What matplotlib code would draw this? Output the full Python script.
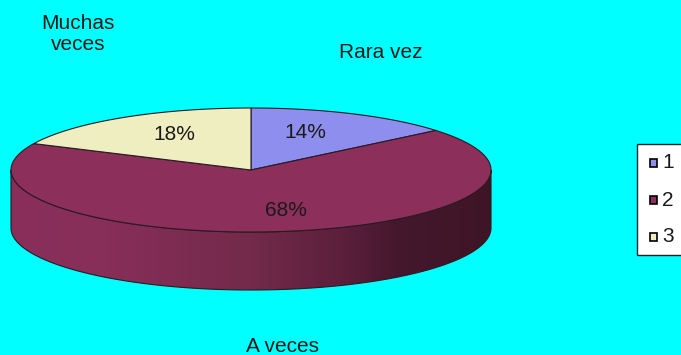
import numpy as np
import matplotlib
matplotlib.use("Agg")
import matplotlib.pyplot as plt
from matplotlib.patches import Polygon, Rectangle
from matplotlib.colors import LinearSegmentedColormap

# Survey answers
categories = ["Rara vez", "A veces", "Muchas veces"]
legend_labels = ["1", "2", "3"]
values = [14, 68, 18]
colors = ["#8E8EEE", "#8C2F5A", "#EEEEC0"]

plt.rcParams["font.family"] = ["Liberation Sans", "DejaVu Sans"]

W, H = 681, 355
fig = plt.figure(figsize=(W / 100, H / 100), dpi=100)
fig.patch.set_facecolor("#00FFFF")
ax = fig.add_axes([0, 0, 1, 1])
ax.set_xlim(0, W)
ax.set_ylim(H, 0)
ax.axis("off")
ax.set_facecolor("#00FFFF")

# pie geometry (pixel space)
cx, cy, a, b, depth = 251, 170, 240, 62, 58
edge = "#2a1a22"


def ell(t, dy=0.0):
    t = np.radians(t)
    return np.column_stack([cx + a * np.cos(t), cy - b * np.sin(t) + dy])


# side wall (front half), filled with a horizontal shading gradient
t_front = np.linspace(180, 360, 200)
side_pts = np.vstack([ell(t_front), ell(t_front[::-1], depth)])
side = Polygon(side_pts, closed=True, facecolor="none", edgecolor=edge, lw=0.8, zorder=3)
ax.add_patch(side)
cmap = LinearSegmentedColormap.from_list(
    "side", [(0.0, "#8A2F5B"), (0.2, "#872E59"), (0.5, "#732A4B"),
             (0.7, "#5A1F3C"), (0.8, "#45182D"), (1.0, "#3E1526")])
grad = np.linspace(0, 1, 256).reshape(1, -1)
im = ax.imshow(grad, cmap=cmap, aspect="auto",
               extent=(cx - a, cx + a, cy + b + depth + 2, cy - 2), zorder=2)
im.set_clip_path(side)
ax.set_xlim(0, W)
ax.set_ylim(H, 0)

# top face wedges, starting at 12 o'clock going clockwise
start = 90.0
for v, c in zip(values, colors):
    sweep = 360.0 * v / sum(values)
    t = np.linspace(start, start - sweep, 200)
    pts = np.vstack([[cx, cy], ell(t)])
    ax.add_patch(Polygon(pts, closed=True, facecolor=c, edgecolor=edge, lw=0.8, zorder=4))
    start -= sweep

# percentage labels on the slices
pct_pos = [(305, 132), (286, 211), (174, 134)]
for v, (x, y) in zip(values, pct_pos):
    ax.text(x, y, f"{v}%", ha="center", va="center", fontsize=15, color="#1a1a1a", zorder=5)

# category labels around the pie
cat_pos = [(381, 52), (283, 346), (78, 34)]
cat_text = ["Rara vez", "A veces", "Muchas\nveces"]
for s, (x, y) in zip(cat_text, cat_pos):
    ax.text(x, y, s, ha="center", va="center", fontsize=15, color="#1a1a1a",
            linespacing=1.15, zorder=5)

# legend
ax.add_patch(Rectangle((637, 144), 60, 111, facecolor="white", edgecolor="#222222",
                       lw=1.0, zorder=5, clip_on=False))
rows = [163, 200, 237]
for lab, c, y in zip(legend_labels, colors, rows):
    ax.add_patch(Rectangle((650, y - 4), 7, 8, facecolor=c, edgecolor="black",
                           lw=1.2, zorder=6))
    ax.text(662, y, lab, ha="left", va="center", fontsize=15, color="#1a1a1a", zorder=6)

fig.savefig("out.png", dpi=100, facecolor=fig.get_facecolor())
